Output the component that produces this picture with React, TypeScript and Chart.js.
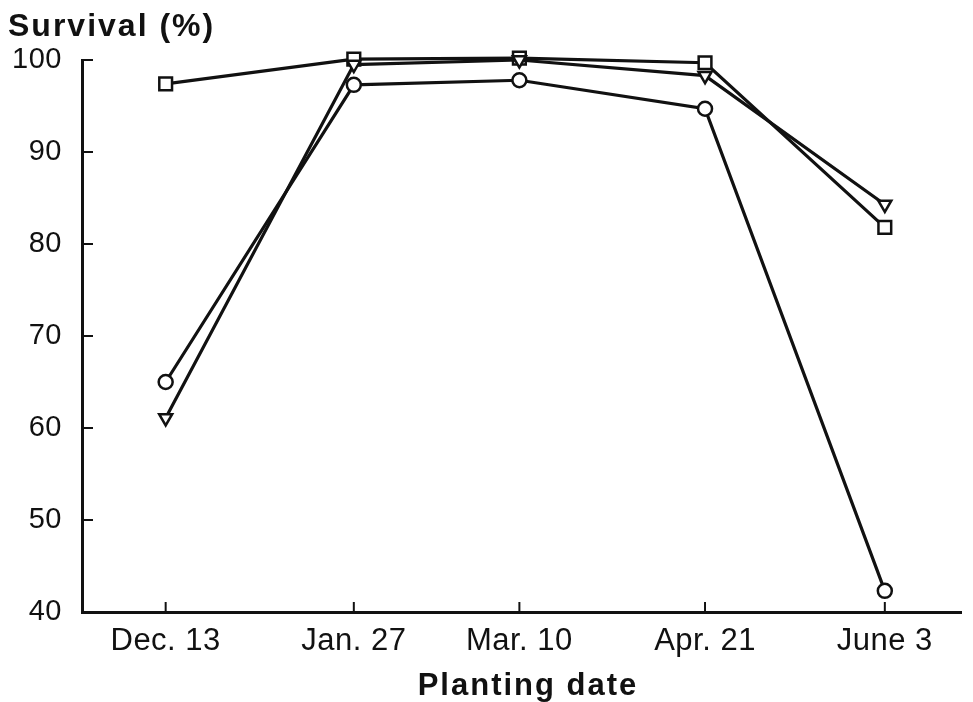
import React, { useEffect, useRef } from 'react';
import { Chart, registerables } from 'chart.js';

Chart.register(...registerables);

const categories = ['Dec. 13', 'Jan. 27', 'Mar. 10', 'Apr. 21', 'June 3'];
// planting day, counted in days from Dec. 13 (as placed in the figure)
const plantingDay = [0, 45, 84.6, 129, 172];
const triangleSeries = [61.1, 99.5, 100, 98.3, 84.3];
const squareSeries = [97.4, 100.1, 100.2, 99.7, 81.8];
const circleSeries = [65.0, 97.3, 97.8, 94.7, 42.3];
const yTicks = [40, 50, 60, 70, 80, 90, 100];
const yTitle = 'Survival (%)';
const xTitle = 'Planting date';

const FONT = '"Liberation Sans", Arial, Helvetica, sans-serif';
const INK = '#111';

const toPoints = (vals: number[]) => vals.map((v, i) => ({ x: plantingDay[i], y: v }));

const decoPlugin = {
  id: 'deco',
  beforeDraw(chart: any) {
    chart.ctx.letterSpacing = '0.5px';
  },
  beforeDatasetsDraw(chart: any) {
    const { ctx, chartArea, scales } = chart;
    ctx.save();
    ctx.strokeStyle = INK;
    ctx.lineWidth = 2;
    scales.y.ticks.forEach((t: any) => {
      const py = scales.y.getPixelForValue(t.value);
      ctx.beginPath();
      ctx.moveTo(chartArea.left, py);
      ctx.lineTo(chartArea.left + 11, py);
      ctx.stroke();
    });
    scales.x.ticks.forEach((t: any) => {
      const px = scales.x.getPixelForValue(t.value);
      ctx.beginPath();
      ctx.moveTo(px, chartArea.bottom);
      ctx.lineTo(px, chartArea.bottom - 10);
      ctx.stroke();
    });
    ctx.restore();
  },
  afterDraw(chart: any) {
    const { ctx } = chart;
    ctx.save();
    ctx.fillStyle = INK;
    ctx.letterSpacing = '2px';
    ctx.font = `bold 32px ${FONT}`;
    ctx.textBaseline = 'alphabetic';
    ctx.textAlign = 'left';
    ctx.fillText(yTitle, 8, 36);
    ctx.font = `bold 31px ${FONT}`;
    ctx.textAlign = 'center';
    ctx.fillText(xTitle, 528, 695);
    ctx.restore();
  },
};

export default function App() {
  const ref = useRef<HTMLCanvasElement | null>(null);

  useEffect(() => {
    if (!ref.current) return;
    const marker = {
      backgroundColor: '#fff',
      borderColor: INK,
      pointBorderColor: INK,
      pointBackgroundColor: '#fff',
      pointBorderWidth: 2.5,
      borderWidth: 3.2,
      clip: false as any,
      tension: 0,
    };
    const chart = new Chart(ref.current, {
      type: 'line',
      data: {
        datasets: [
          { ...marker, label: 'triangle', data: toPoints(triangleSeries), pointStyle: 'triangle', pointRotation: 180, pointRadius: 7.5 },
          { ...marker, label: 'square', data: toPoints(squareSeries), pointStyle: 'rect', pointRadius: 9 },
          { ...marker, label: 'circle', data: toPoints(circleSeries), pointStyle: 'circle', pointRadius: 7 },
        ],
      },
      options: {
        animation: false,
        responsive: false,
        layout: { padding: { left: 0, right: 5, top: 60, bottom: 0 } },
        plugins: { legend: { display: false }, tooltip: { enabled: false }, title: { display: false } },
        scales: {
          x: {
            type: 'linear',
            min: -20.01,
            max: 190.34,
            grid: { display: false, drawTicks: false },
            border: { display: true, color: INK, width: 3 },
            afterBuildTicks: (s: any) => {
              s.ticks = plantingDay.map((v) => ({ value: v }));
            },
            afterFit: (s: any) => {
              s.height = 90;
            },
            ticks: {
              autoSkip: false,
              maxRotation: 0,
              minRotation: 0,
              padding: 11,
              color: INK,
              font: { family: FONT, size: 31 },
              callback: (_v: any, i: number) => categories[i],
            },
          },
          y: {
            type: 'linear',
            min: 40,
            max: 100,
            grid: { display: false, drawTicks: false },
            border: { display: true, color: INK, width: 3 },
            afterBuildTicks: (s: any) => {
              s.ticks = yTicks.map((v) => ({ value: v }));
            },
            afterFit: (s: any) => {
              s.width = 82;
            },
            ticks: {
              padding: 20,
              color: INK,
              font: { family: FONT, size: 29 },
            },
          },
        },
      },
      plugins: [decoPlugin],
    });
    return () => chart.destroy();
  }, []);

  return (
    <div style={{ position: 'fixed', left: 0, top: 0, width: 973, height: 702, background: '#fff' }}>
      <canvas ref={ref} width={973} height={702} style={{ display: 'block' }} />
    </div>
  );
}
